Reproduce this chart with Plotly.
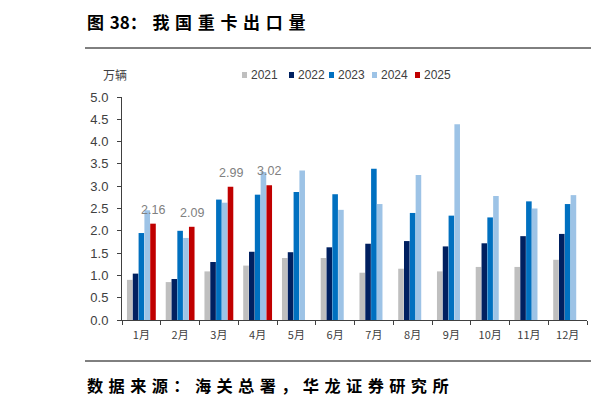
import plotly.graph_objects as go

# 月份与各年重卡出口量（万辆）
meses = ['1月', '2月', '3月', '4月', '5月', '6月', '7月', '8月', '9月', '10月', '11月', '12月']
anos = ['2021', '2022', '2023', '2024', '2025']
v2021 = [0.90, 0.85, 1.09, 1.22, 1.39, 1.39, 1.06, 1.15, 1.09, 1.19, 1.19, 1.35]
v2022 = [1.04, 0.92, 1.30, 1.53, 1.52, 1.63, 1.71, 1.77, 1.65, 1.72, 1.88, 1.93]
v2023 = [1.95, 2.00, 2.70, 2.81, 2.87, 2.82, 3.39, 2.40, 2.34, 2.30, 2.66, 2.60]
v2024 = [2.46, 1.84, 2.63, 3.32, 3.35, 2.47, 2.60, 3.25, 4.39, 2.78, 2.50, 2.80]
v2025 = [2.16, 2.09, 2.99, 3.02]
cores = ['#BFBFBF', '#002060', '#0070C0', '#9DC3E6', '#C00000']

titulo_num = '图\u200438：'
titulo = '我国重卡出口量'
fonte = '数据来源：海关总署，华龙证券研究所'

# a pagina desloca tudo 8px (margem do body)
OFF = 8
W, H = 599, 407
L, R, B, T = 122 - OFF, 587 - OFF, 320 - OFF, 97 - OFF
def px(x):
    return (x - OFF - L) / (R - L)
def py(y):
    return (B - (y - OFF)) / (B - T)

def espacado(s):
    return '\u2004'.join(s)

BARGAP = 0.25
fig = go.Figure()
series = [v2021, v2022, v2023, v2024, v2025]
for ano, vals, cor in zip(anos, series, cores):
    fig.add_bar(
        x=meses[:len(vals)], y=vals, name=ano, marker_color=cor,
        marker_line_width=0, showlegend=False,
    )

# rotulos de 2025 sobre a 5a barra do grupo
desloc = (R - L) / len(meses) * (1 - BARGAP) / len(anos) * 2
for m, v in zip(meses, v2025):
    fig.add_annotation(x=m, y=v, text='%.2f' % v, showarrow=False,
                       xshift=desloc, yshift=5, yanchor='bottom',
                       font=dict(size=12.5, color='#808080', family='Liberation Sans'))

fig.update_layout(
    width=W, height=H,
    margin=dict(l=L, r=W - R, t=T, b=H - B),
    paper_bgcolor='white', plot_bgcolor='white',
    barmode='group', bargap=BARGAP, bargroupgap=0.04,
    font=dict(family='Liberation Sans, Arial', color='#404040', size=12),
    xaxis=dict(
        type='category', categoryorder='array', categoryarray=meses,
        range=[-0.5, 11.5],
        showline=True, linecolor='#404040', linewidth=1,
        ticks='outside', tickson='boundaries', ticklen=4, tickcolor='#404040',
        ticklabelstandoff=5,
        tickfont=dict(size=11, family='Noto Sans CJK SC', color='#404040'),
        showgrid=False,
    ),
    yaxis=dict(
        range=[0, 5], dtick=0.5, tickformat='.1f',
        showline=True, linecolor='#404040', linewidth=1,
        ticks='outside', ticklen=4, tickcolor='#404040',
        ticklabelstandoff=6,
        tickfont=dict(size=13, color='#404040'),
        showgrid=False, zeroline=False,
    ),
)

# titulo e fonte
fig.add_annotation(text='<b>' + titulo_num + '\u2004' + espacado(titulo) + '</b>',
                   xref='paper', yref='paper',
                   x=px(85), y=py(22), xanchor='left', yanchor='middle', showarrow=False,
                   font=dict(size=17, family='Noto Sans CJK SC', color='black'))
fig.add_annotation(text='<b>' + espacado(fonte) + '</b>', xref='paper', yref='paper',
                   x=px(85), y=py(385), xanchor='left', yanchor='middle', showarrow=False,
                   font=dict(size=16.2, family='Noto Sans CJK SC', color='black'))
fig.add_annotation(text='万辆', xref='paper', yref='paper',
                   x=px(101), y=py(75), xanchor='left', yanchor='middle', showarrow=False,
                   font=dict(size=12, family='Noto Sans CJK SC', color='#404040'))

# moldura
fig.add_shape(type='line', xref='paper', yref='paper', x0=px(85), x1=px(610), y0=py(48), y1=py(48),
              line=dict(color='black', width=1))
fig.add_shape(type='line', xref='paper', yref='paper', x0=px(85), x1=px(610), y0=py(361), y1=py(361),
              line=dict(color='black', width=1))
fig.add_shape(type='line', xref='paper', yref='paper', x0=px(596), x1=px(596), y0=py(48), y1=py(361),
              line=dict(color='#404040', width=1))

# legenda manual
leg_x = [242, 289, 329, 372, 415]
for ano, cor, lx in zip(anos, cores, leg_x):
    fig.add_shape(type='rect', xref='paper', yref='paper',
                  x0=px(lx), x1=px(lx + 5), y0=py(78), y1=py(72),
                  fillcolor=cor, line_width=0)
    fig.add_annotation(text=ano, xref='paper', yref='paper',
                       x=px(lx + 7), y=py(75), xanchor='left', yanchor='middle', showarrow=False,
                       font=dict(size=12, color='#404040'))

fig.write_html('out.html')
